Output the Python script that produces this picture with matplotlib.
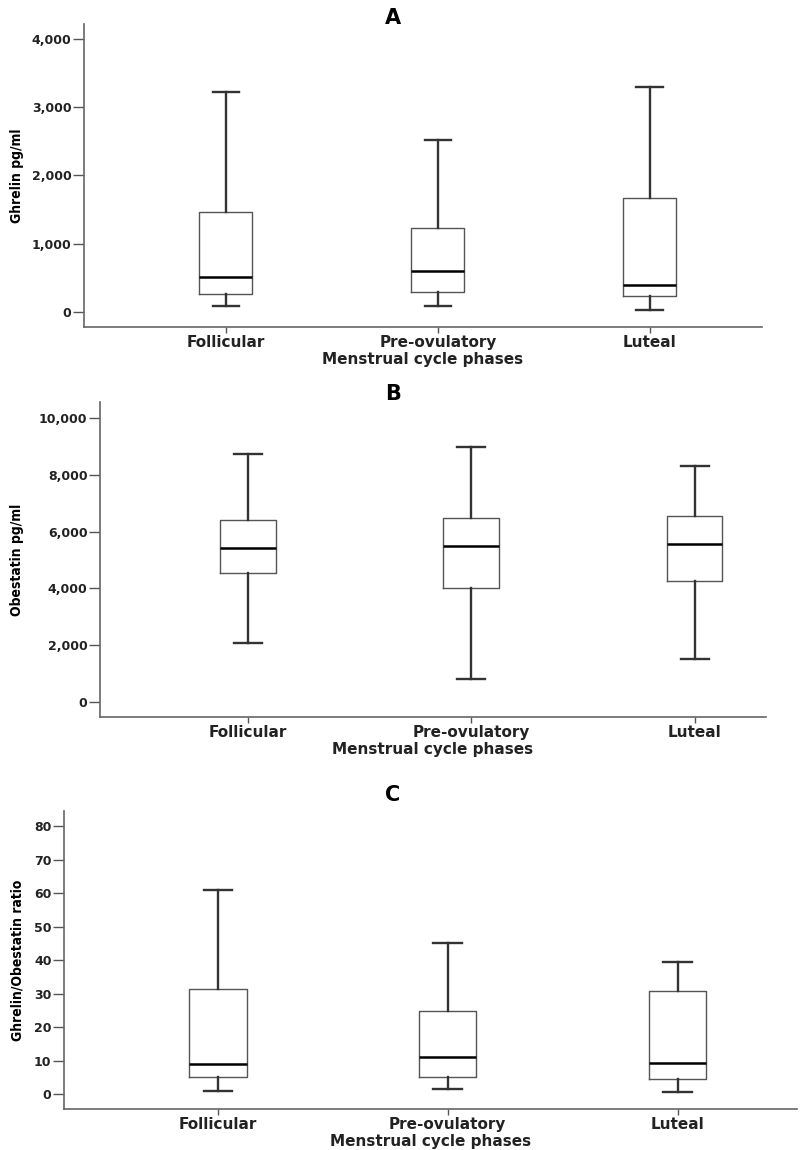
import matplotlib
matplotlib.use('Agg')
import matplotlib.pyplot as plt
from matplotlib.ticker import FuncFormatter

# Data (whisker low, Q1, median, Q3, whisker high)
phases = ['Follicular', 'Pre-ovulatory', 'Luteal']

ghrelin_low = [88, 88, 29]
ghrelin_q1 = [268, 293, 234]
ghrelin_med = [513, 601, 391]
ghrelin_q3 = [1465, 1231, 1675]
ghrelin_high = [3223, 2520, 3301]

obestatin_low = [2067, 799, 1528]
obestatin_q1 = [4556, 4004, 4275]
obestatin_med = [5423, 5482, 5563]
obestatin_q3 = [6398, 6493, 6549]
obestatin_high = [8732, 8979, 8324]

ratio_low = [0.8, 1.5, 0.5]
ratio_q1 = [5.1, 5.0, 4.4]
ratio_med = [9.0, 11.1, 9.2]
ratio_q3 = [31.4, 24.9, 30.7]
ratio_high = [60.9, 45.1, 39.6]

ghrelin_ticks = [0, 1000, 2000, 3000, 4000]
obestatin_ticks = [0, 2000, 4000, 6000, 8000, 10000]
ratio_ticks = [0, 10, 20, 30, 40, 50, 60, 70, 80]

W, H = 800, 1150
fig = plt.figure(figsize=(W / 100, H / 100), dpi=100)

narrow = ['Liberation Sans Narrow', 'DejaVu Sans']


def make_axes(left, right, top, bottom):
    return fig.add_axes([left / W, 1 - bottom / H, (right - left) / W, (bottom - top) / H])


def stats(low, q1, med, q3, high):
    return [dict(whislo=a, q1=b, med=c, q3=d, whishi=e, fliers=[])
            for a, b, c, d, e in zip(low, q1, med, q3, high)]


def draw_panel(ax, st, ylabel, yticks, ylim, xlim, fmt, label_x):
    ax.bxp(st, positions=range(len(phases)), widths=0.25, showfliers=False,
           boxprops=dict(color='#555555', linewidth=1.0),
           medianprops=dict(color='black', linewidth=1.8),
           whiskerprops=dict(color='#333333', linewidth=1.7),
           capprops=dict(color='#333333', linewidth=1.7))
    ax.set_xlim(*xlim)
    ax.set_ylim(*ylim)
    ax.set_yticks(yticks)
    ax.yaxis.set_major_formatter(FuncFormatter(fmt))
    ax.set_xticks(range(len(phases)))
    ax.set_xticklabels(phases, fontsize=11, fontweight='bold', color='#222222')
    for lab in ax.get_yticklabels():
        lab.set_fontweight('bold')
        lab.set_fontsize(9)
        lab.set_color('#222222')
    ax.tick_params(axis='y', length=8, width=1, color='#555555', pad=1)
    ax.tick_params(axis='x', length=4, width=1, color='#555555', pad=2)
    for s in ['top', 'right']:
        ax.spines[s].set_visible(False)
    for s in ['left', 'bottom']:
        ax.spines[s].set_color('#666666')
        ax.spines[s].set_linewidth(1.2)
    ax.set_xlabel('Menstrual cycle phases', fontsize=11, fontweight='bold',
                  color='#222222', labelpad=1)
    ax.set_ylabel(ylabel, fontsize=10, fontweight='bold', family=narrow,
                  fontstretch='condensed', va='center')
    ax.yaxis.set_label_coords(label_x, 0.5)


thousands = lambda v, p: '{:,.0f}'.format(v)
plain = lambda v, p: '{:.0f}'.format(v)

ax_a = make_axes(84, 762, 24, 327)
draw_panel(ax_a, stats(ghrelin_low, ghrelin_q1, ghrelin_med, ghrelin_q3, ghrelin_high),
           'Ghrelin pg/ml', ghrelin_ticks, (-220, 4220), (-0.67, 2.53), thousands, -0.099)

ax_b = make_axes(100, 766, 402, 717)
draw_panel(ax_b, stats(obestatin_low, obestatin_q1, obestatin_med, obestatin_q3, obestatin_high),
           'Obestatin pg/ml', obestatin_ticks, (-528, 10563), (-0.664, 2.32), thousands, -0.125)

ax_c = make_axes(64, 797, 811, 1109)
draw_panel(ax_c, stats(ratio_low, ratio_q1, ratio_med, ratio_q3, ratio_high),
           'Ghrelin/Obestatin ratio', ratio_ticks, (-4.5, 84.6), (-0.67, 2.52), plain, -0.064)

# panel letters
for letter, ypix in [('A', 18), ('B', 394), ('C', 795)]:
    fig.text(393 / W, 1 - ypix / H, letter, fontsize=15, fontweight='bold',
             ha='center', va='center')

fig.savefig('out.png', dpi=100)
